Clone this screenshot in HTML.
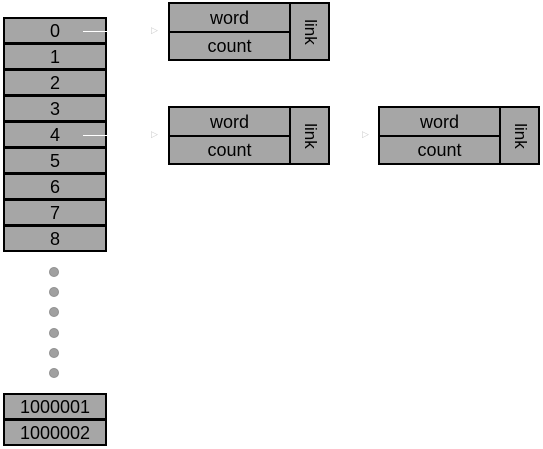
<!DOCTYPE html>
<html><head><style>
body{margin:0;width:543px;height:449px;background:#fff;position:relative;overflow:hidden;font-family:"Liberation Sans",sans-serif;}
.c{position:absolute;left:3px;width:100px;height:23px;background:#a6a6a6;border:2px solid #000;font-size:18px;line-height:24px;text-align:center;color:#000;}
.n{position:absolute;width:158px;height:55px;background:#a6a6a6;border:2px solid #000;}
.n .w,.n .k{position:absolute;left:0;width:119px;height:27px;text-align:center;font-size:18px;line-height:29px;}
.n .w{top:0;border-bottom:2px solid #000;height:27px}
.n .k{top:29px;height:26px;line-height:26px}
.n .l{position:absolute;left:119px;top:0;width:2px;height:55px;background:#000}
.n .t{position:absolute;left:121px;top:0;width:37px;height:55px;}
.n .t span{position:absolute;left:50%;top:50%;transform:translate(-50%,-50%) rotate(90deg);font-size:17px}
.d{position:absolute;left:49px;width:10px;height:10px;border-radius:50%;background:#a0a0a0;border:1px solid #909090;box-sizing:border-box}
.h{position:absolute;height:1px;background:#fff}
.a{position:absolute;font-size:9px;color:#ccc}
</style></head><body>
<div class="c" style="top:17px">0</div>
<div class="c" style="top:43px">1</div>
<div class="c" style="top:69px">2</div>
<div class="c" style="top:95px">3</div>
<div class="c" style="top:121px">4</div>
<div class="c" style="top:147px">5</div>
<div class="c" style="top:173px">6</div>
<div class="c" style="top:199px">7</div>
<div class="c" style="top:225px">8</div>
<div class="d" style="top:267px"></div>
<div class="d" style="top:287px"></div>
<div class="d" style="top:307px"></div>
<div class="d" style="top:328px"></div>
<div class="d" style="top:348px"></div>
<div class="d" style="top:368px"></div>
<div class="c" style="top:393px">1000001</div>
<div class="c" style="top:419px">1000002</div>
<div class="h" style="left:83px;top:31px;width:24px"></div>
<div class="h" style="left:83px;top:135px;width:24px"></div>
<div class="h" style="left:323px;top:134px;width:6px"></div>
<div class="a" style="left:151px;top:25px">▷</div>
<div class="a" style="left:151px;top:129px">▷</div>
<div class="a" style="left:362px;top:129px">▷</div>
<div class="n" style="left:168px;top:2px"><div class="w">word</div><div class="k">count</div><div class="l"></div><div class="t"><span>link</span></div></div>
<div class="n" style="left:168px;top:106px"><div class="w">word</div><div class="k">count</div><div class="l"></div><div class="t"><span>link</span></div></div>
<div class="n" style="left:378px;top:106px"><div class="w">word</div><div class="k">count</div><div class="l"></div><div class="t"><span>link</span></div></div>
</body></html>
